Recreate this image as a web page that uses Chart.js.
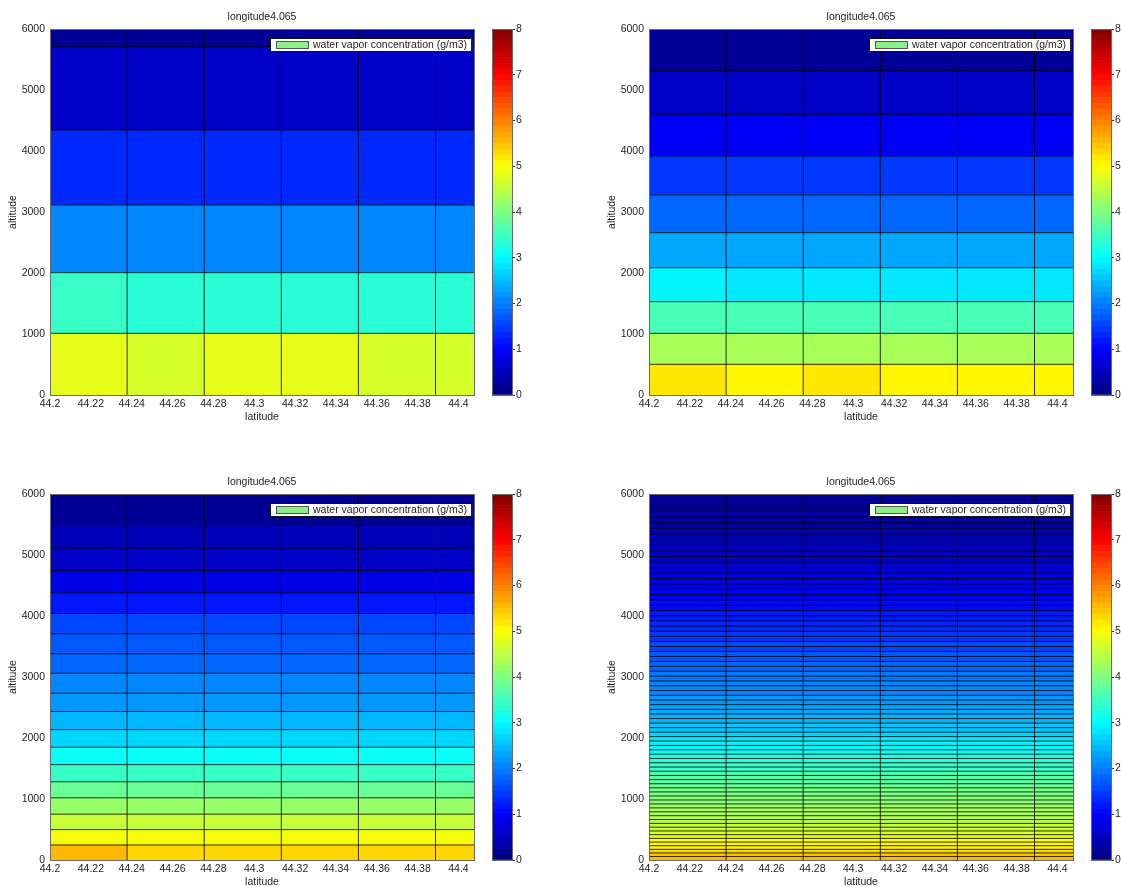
<!DOCTYPE html>
<html>
<head>
<meta charset="utf-8">
<title>water vapor concentration</title>
<script src="https://cdn.jsdelivr.net/npm/chart.js@4.4.0/dist/chart.umd.min.js"></script>
<style>
    html, body { margin: 0; padding: 0; background: #fff; width: 1121px; height: 887px; overflow: hidden; }
    canvas { position: absolute; }
</style>
</head>
<body>
<canvas id="heat1" width="480" height="430" style="left:0px;top:0px"></canvas>
<canvas id="bar1" width="40" height="430" style="left:486px;top:0px"></canvas>
<canvas id="heat2" width="480" height="430" style="left:599px;top:0px"></canvas>
<canvas id="bar2" width="40" height="430" style="left:1085px;top:0px"></canvas>
<canvas id="heat3" width="480" height="430" style="left:0px;top:465px"></canvas>
<canvas id="bar3" width="40" height="430" style="left:486px;top:465px"></canvas>
<canvas id="heat4" width="480" height="430" style="left:599px;top:465px"></canvas>
<canvas id="bar4" width="40" height="430" style="left:1085px;top:465px"></canvas>
<script>
// ----------------------------------------
// Data
// ----------------------------------------
const titleText = 'longitude4.065';
const xLabel = 'latitude';
const yLabel = 'altitude';
const legendLabel = 'water vapor concentration (g/m3)';

// latitude cell edges (last cell is cut by the axis limit)
const latEdges = [44.2, 44.23775, 44.2755, 44.31325, 44.351, 44.38875, 44.4265];
const latMin = 44.2;
const latMax = 44.4076;
const altMin = 0;
const altMax = 6000;
const cMin = 0;
const cMax = 8;

// panel 1 (top left): altitude edges and one row of values per band, bottom to top
const alt1 = [0, 1011, 2005, 3115, 4344, 5710, 6000];
const vap1 = [
    [4.76, 4.66, 4.76, 4.76, 4.66, 4.66],
    [3.40, 3.26, 3.26, 3.26, 3.26, 3.26],
    [2.12, 2.12, 2.12, 2.12, 2.12, 2.12],
    [1.30, 1.30, 1.30, 1.30, 1.30, 1.30],
    [0.50, 0.50, 0.50, 0.50, 0.50, 0.50],
    [0.15, 0.15, 0.15, 0.15, 0.15, 0.15]
];

// panel 2 (top right)
const alt2 = [0, 503, 1011, 1530, 2087, 2661, 3279, 3918, 4601, 5316, 6000];
const vap2 = [
    [5.22, 5.00, 5.15, 5.10, 5.08, 5.02],
    [4.34, 4.34, 4.34, 4.34, 4.34, 4.34],
    [3.60, 3.60, 3.60, 3.60, 3.60, 3.60],
    [2.95, 2.85, 2.85, 2.85, 2.85, 2.85],
    [2.32, 2.32, 2.32, 2.32, 2.32, 2.32],
    [1.80, 1.80, 1.80, 1.80, 1.80, 1.80],
    [1.40, 1.40, 1.40, 1.40, 1.40, 1.40],
    [0.90, 0.90, 0.90, 0.90, 0.90, 0.90],
    [0.56, 0.56, 0.56, 0.56, 0.56, 0.56],
    [0.20, 0.20, 0.20, 0.20, 0.20, 0.20]
];

// panel 3 (bottom left)
const alt3 = [0, 246, 498, 752, 1019, 1282, 1563, 1850, 2137, 2435, 2735, 3063, 3380, 3708, 4041, 4380, 4746, 5113, 5484, 6000];
const vap3 = [
    [5.50, 5.32, 5.32, 5.32, 5.32, 5.32],
    [4.90, 4.90, 4.90, 4.90, 4.90, 4.90],
    [4.60, 4.60, 4.60, 4.60, 4.60, 4.60],
    [4.15, 4.15, 4.15, 4.15, 4.15, 4.15],
    [3.86, 3.86, 3.86, 3.86, 3.86, 3.86],
    [3.40, 3.40, 3.40, 3.40, 3.40, 3.40],
    [3.00, 3.00, 3.00, 3.00, 3.00, 3.00],
    [2.66, 2.66, 2.66, 2.66, 2.66, 2.66],
    [2.42, 2.42, 2.42, 2.42, 2.42, 2.42],
    [2.22, 2.22, 2.22, 2.22, 2.22, 2.22],
    [2.04, 2.04, 2.04, 2.04, 2.04, 2.04],
    [1.85, 1.85, 1.85, 1.85, 1.85, 1.85],
    [1.69, 1.69, 1.69, 1.69, 1.69, 1.69],
    [1.50, 1.50, 1.50, 1.50, 1.50, 1.50],
    [1.15, 1.15, 1.15, 1.15, 1.15, 1.15],
    [0.82, 0.82, 0.82, 0.82, 0.82, 0.82],
    [0.60, 0.60, 0.60, 0.60, 0.60, 0.60],
    [0.38, 0.38, 0.38, 0.38, 0.38, 0.38],
    [0.18, 0.18, 0.18, 0.18, 0.18, 0.18]
];

// panel 4 (bottom right): thin bands, uniform along latitude
const alt4 = [0, 58, 116, 175, 234, 294, 354, 415, 476, 538, 600, 663, 726, 790, 854, 919, 984,
    1050, 1116, 1183, 1250, 1318, 1386, 1455, 1524, 1594, 1664, 1735, 1806, 1878, 1950,
    2023, 2096, 2170, 2244, 2319, 2394, 2470, 2546, 2623, 2700, 2778, 2856, 2935,
    3014, 3094, 3174, 3255, 3336, 3418, 3500, 3583, 3666, 3750, 3834, 3919,
    4004, 4090, 4176, 4263, 4350, 4438, 4526, 4615, 4704, 4794, 4884, 4975,
    5066, 5158, 5250, 5343, 5436, 5530, 5624, 5719, 5814, 5910, 6000];
const vap4 = [5.55, 5.40, 5.25, 5.10, 5.00, 4.90, 4.80, 4.72, 4.62, 4.55,
    4.47, 4.40, 4.32, 4.25, 4.18, 4.10, 4.02, 3.95, 3.88, 3.80,
    3.72, 3.64, 3.56, 3.48, 3.40, 3.30, 3.20, 3.08, 2.98, 2.88,
    2.78, 2.70, 2.62, 2.55, 2.48, 2.42, 2.36, 2.30, 2.24, 2.18,
    2.12, 2.06, 2.00, 1.94, 1.88, 1.82, 1.76, 1.70, 1.64, 1.58,
    1.52, 1.46, 1.40, 1.34, 1.28, 1.22, 1.16, 1.10, 1.04, 0.98,
    0.92, 0.86, 0.80, 0.75, 0.70, 0.65, 0.60, 0.55, 0.50, 0.46,
    0.42, 0.38, 0.34, 0.30, 0.27, 0.24, 0.21, 0.18];

// ----------------------------------------
// Styling
// ----------------------------------------
const FONT_FAMILY = '"Liberation Sans", Arial, Helvetica, sans-serif';
const FONT_SIZE = 10.5;
const TEXT_COLOR = '#1e1e1e';
const FRAME_COLOR = '#6a6a6a';
const CELL_LINE = 'rgba(0, 0, 0, 0.8)';
const COLORMAP_SIZE = 64;

Chart.defaults.font.family = FONT_FAMILY;
Chart.defaults.font.size = FONT_SIZE;
Chart.defaults.color = TEXT_COLOR;

/**
 * MATLAB-like jet colormap with 64 discrete steps
 */
function jet(v) {
    const idx = Math.min(COLORMAP_SIZE - 1, Math.max(0, Math.floor((v - cMin) / (cMax - cMin) * COLORMAP_SIZE)));
    const t = (idx + 0.5) / COLORMAP_SIZE;
    const f = (c) => Math.round(255 * Math.min(1, Math.max(0, 1.5 - Math.abs(4 * t - c))));
    return `rgb(${f(3)}, ${f(2)}, ${f(1)})`;
}

// white legend box inside the top right corner of the plot
const legendBox = {
    id: 'legendBox',
    afterDraw(chart) {
        const { ctx, chartArea } = chart;
        ctx.save();
        ctx.font = `${FONT_SIZE}px ${FONT_FAMILY}`;
        const tw = ctx.measureText(legendLabel).width;
        const patchW = 33;
        const w = 6 + patchW + 4 + tw + 5;
        const h = 14;
        const x0 = Math.round(chartArea.right - 2 - w);
        const y0 = Math.round(chartArea.top + 9);

        ctx.fillStyle = '#ffffff';
        ctx.fillRect(x0, y0, w, h);
        ctx.strokeStyle = '#111';
        ctx.lineWidth = 1;
        ctx.strokeRect(x0 + 0.5, y0 + 0.5, w - 1, h - 1);

        ctx.fillStyle = '#88f084';
        ctx.fillRect(x0 + 6, y0 + 3, patchW, 8);
        ctx.strokeStyle = '#555';
        ctx.strokeRect(x0 + 6.5, y0 + 3.5, patchW - 1, 7);

        ctx.fillStyle = TEXT_COLOR;
        ctx.textAlign = 'left';
        ctx.textBaseline = 'middle';
        ctx.fillText(legendLabel, x0 + 6 + patchW + 4, y0 + h / 2 + 0.5);
        ctx.restore();
    }
};

function frameAxis(position, min, max, size) {
    const horizontal = position === 'top' || position === 'bottom';
    return {
        type: 'linear',
        position,
        min,
        max,
        grid: { display: false, drawTicks: false },
        ticks: { display: false },
        border: { display: true, color: FRAME_COLOR, width: 1, z: 1 },
        afterFit: (s) => { if (horizontal) { s.height = size; } else { s.width = size; } }
    };
}

// mesh edge as a two point line dataset, drawn above the cells
function edgeLine(points) {
    return {
        type: 'line',
        data: points,
        borderColor: CELL_LINE,
        borderWidth: 1,
        pointRadius: 0,
        fill: false,
        order: 0,
        clip: 0
    };
}

/**
 * Build one pcolor panel: floating bars for the cells, line datasets for the mesh edges
 */
function heatChart(canvasId, alt, vap) {
    const centers = latEdges.slice(0, -1).map((e, i) => (e + latEdges[i + 1]) / 2);

    const cells = vap.map((row, r) => {
        const vals = Array.isArray(row) ? row : centers.map(() => row);
        return {
            type: 'bar',
            label: legendLabel,
            data: centers.map((c) => ({ x: c, y: [alt[r], alt[r + 1]] })),
            backgroundColor: vals.map(jet),
            borderWidth: 0,
            barThickness: 'flex',
            categoryPercentage: 1,
            barPercentage: 1,
            stack: 'cells',
            order: 1,
            clip: 0
        };
    });

    const rowEdges = alt.slice(1, -1).map((a) => edgeLine([{ x: latMin, y: a }, { x: latMax, y: a }]));
    const colEdges = latEdges.slice(1).filter((e) => e < latMax)
        .map((e) => edgeLine([{ x: e, y: altMin }, { x: e, y: altMax }]));

    const xTop = frameAxis('top', latMin, latMax, 29);
    xTop.title = { display: true, text: titleText, color: TEXT_COLOR, padding: { top: 11, bottom: 0 } };

    return new Chart(document.getElementById(canvasId), {
        type: 'bar',
        data: { datasets: [...cells, ...rowEdges, ...colEdges] },
        options: {
            responsive: false,
            animation: false,
            events: [],
            layout: { padding: 0 },
            plugins: {
                legend: { display: false },
                tooltip: { enabled: false },
                title: { display: false }
            },
            scales: {
                x: {
                    type: 'linear',
                    position: 'bottom',
                    min: latMin,
                    max: latMax,
                    offset: false,
                    stacked: true,
                    grid: { display: false, drawTicks: false, offset: false },
                    border: { display: true, color: FRAME_COLOR, width: 1, z: 1 },
                    ticks: {
                        stepSize: 0.02,
                        includeBounds: false,
                        autoSkip: false,
                        maxRotation: 0,
                        padding: 3,
                        callback: (v) => String(Math.round(v * 100) / 100)
                    },
                    title: { display: true, text: xLabel, padding: { top: 0, bottom: 7 } },
                    afterFit: (s) => { s.height = 35; }
                },
                y: {
                    type: 'linear',
                    position: 'left',
                    min: altMin,
                    max: altMax,
                    stacked: false,
                    grid: { display: false, drawTicks: false },
                    border: { display: true, color: FRAME_COLOR, width: 1, z: 1 },
                    ticks: {
                        stepSize: 1000,
                        padding: 5,
                        callback: (v) => String(v)
                    },
                    title: { display: true, text: yLabel, padding: { top: 7, bottom: 0 } },
                    afterFit: (s) => { s.width = 50; }
                },
                xTop,
                yRight: frameAxis('right', altMin, altMax, 6)
            }
        },
        plugins: [legendBox]
    });
}

/**
 * Colorbar: one floating bar per colormap step on a 0..8 axis
 */
function colorbarChart(canvasId) {
    const levels = [];
    for (let k = 0; k <= COLORMAP_SIZE; k++) {
        levels.push(cMin + (cMax - cMin) * k / COLORMAP_SIZE);
    }
    const datasets = levels.slice(0, -1).map((lo, k) => ({
        data: [[lo, levels[k + 1]]],
        backgroundColor: jet((lo + levels[k + 1]) / 2),
        borderWidth: 0,
        barThickness: 'flex',
        categoryPercentage: 1,
        barPercentage: 1,
        stack: 'cb',
        clip: 0
    }));

    return new Chart(document.getElementById(canvasId), {
        type: 'bar',
        data: { labels: [''], datasets },
        options: {
            responsive: false,
            animation: false,
            events: [],
            layout: { padding: 0 },
            plugins: {
                legend: { display: false },
                tooltip: { enabled: false }
            },
            scales: {
                x: {
                    type: 'category',
                    stacked: true,
                    offset: true,
                    grid: { display: false, drawTicks: false },
                    ticks: { display: false },
                    border: { display: true, color: FRAME_COLOR, width: 1, z: 1 },
                    afterFit: (s) => { s.height = 35; }
                },
                y: {
                    type: 'linear',
                    position: 'right',
                    min: cMin,
                    max: cMax,
                    stacked: false,
                    grid: { display: true, drawOnChartArea: false, drawTicks: true, tickLength: 3, color: '#333' },
                    border: { display: true, color: FRAME_COLOR, width: 1, z: 1 },
                    ticks: { stepSize: 1, padding: 1 },
                    afterFit: (s) => { s.width = 14; }
                },
                xTop: frameAxis('top', 0, 1, 29),
                yLeft: frameAxis('left', cMin, cMax, 6)
            }
        }
    });
}

heatChart('heat1', alt1, vap1);
heatChart('heat2', alt2, vap2);
heatChart('heat3', alt3, vap3);
heatChart('heat4', alt4, vap4);
colorbarChart('bar1');
colorbarChart('bar2');
colorbarChart('bar3');
colorbarChart('bar4');
</script>
</body>
</html>
